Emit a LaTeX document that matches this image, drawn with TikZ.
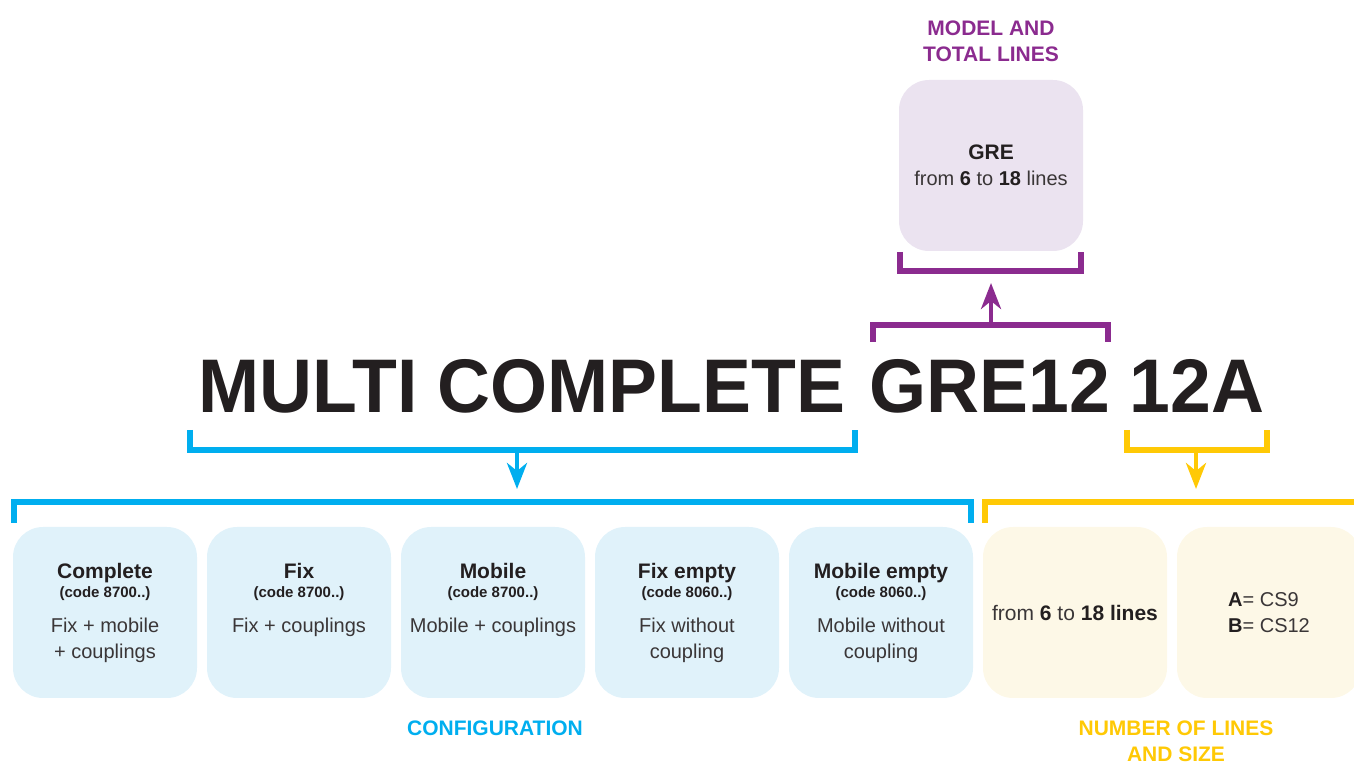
\documentclass[tikz,border=0pt]{standalone}
\usepackage{fontspec}
\setmainfont{Liberation Sans}
\usepackage{graphicx}
\usetikzlibrary{arrows.meta,positioning,calc}
\definecolor{CfgBlue}{HTML}{00AEEF}
\definecolor{CfgBlueLight}{HTML}{E0F2FA}
\definecolor{ModelPurple}{HTML}{8B2B8F}
\definecolor{ModelPurpleLight}{HTML}{EBE3F0}
\definecolor{SizeYellow}{HTML}{FFC905}
\definecolor{SizeYellowLight}{HTML}{FDF8E7}
\definecolor{Ink}{HTML}{231F20}
\definecolor{InkSoft}{HTML}{3A3637}
\newcommand{\cardhead}[2]{{\bfseries\color{Ink}\fontsize{10.5}{13}\selectfont #1}\\[-3.5pt]{\bfseries\color{Ink}\fontsize{7.5}{9}\selectfont (code #2..)}\\[4.5pt]}

\begin{document}
\begin{tikzpicture}[
		x=0.5pt,y=-0.5pt,
		node distance=5pt,
		card/.style={rounded corners=15pt,minimum width=92pt,minimum height=85.5pt,inner sep=0pt,outer sep=0pt,align=center,text=InkSoft,font=\fontsize{10}{13}\selectfont},
		title/.style={inner sep=0pt,anchor=base,text=Ink,font=\fontsize{38}{38}\selectfont\bfseries},
		tag/.style={align=center,font=\fontsize{10.5}{13}\selectfont\bfseries},
		brk/.style={line width=2.6pt},
		arr/.style={-{Stealth[length=13pt,width=10pt,inset=4pt]},line width=2.2pt}
	]
	\useasboundingbox (0,0) rectangle (1354,763);
	% title
	\node[title] (t1) at (522,413) {\scalebox{0.965}[1]{MULTI COMPLETE}};
	\node[title] (t2) at (990,413) {\scalebox{0.965}[1]{GRE12}};
	\node[title] (t3) at (1197,413) {\scalebox{0.965}[1]{12A}};
	% model
	\node[card,fill=ModelPurpleLight] (gre) at (991,165.5) {{\bfseries\color{Ink}\fontsize{10.5}{13}\selectfont GRE}\\from \textbf{\color{Ink}6} to \textbf{\color{Ink}18} lines};
	\node[tag,text=ModelPurple] (model) at (991,41) {MODEL AND\\TOTAL LINES};
	\draw[brk,ModelPurple] (873,342) -- (873,325) -- (1108,325) -- (1108,342);
	\draw[brk,ModelPurple] (900,252) -- (900,271) -- (1081,271) -- (1081,252);
	\coordinate (gretail) at (991,325);
	\coordinate (gretip) at (991,283);
	\draw[arr,ModelPurple] (gretail) -- (gretip);
	% configuration
	\node[card,fill=CfgBlueLight] (c1) at (105,612.5) {\cardhead{Complete}{8700}Fix + mobile\\+ couplings};
	\node[card,fill=CfgBlueLight,right=of c1] (c2) {\cardhead{Fix}{8700}Fix + couplings\\\vphantom{g}};
	\node[card,fill=CfgBlueLight,right=of c2] (c3) {\cardhead{Mobile}{8700}Mobile + couplings\\\vphantom{g}};
	\node[card,fill=CfgBlueLight,right=of c3] (c4) {\cardhead{Fix empty}{8060}Fix without\\coupling};
	\node[card,fill=CfgBlueLight,right=of c4] (c5) {\cardhead{Mobile empty}{8060}Mobile without\\coupling};
	\node[tag,text=CfgBlue] (cfg) at (495,728) {CONFIGURATION};
	\draw[brk,CfgBlue] (190,430) -- (190,450) -- (855,450) -- (855,430);
	\draw[brk,CfgBlue] (14,523) -- (14,502) -- (971,502) -- (971,523);
	\coordinate (cfgtail) at (517,450);
	\coordinate (cfgtip) at (517,489);
	\draw[arr,CfgBlue] (cfgtail) -- (cfgtip);
	% lines and size
	\node[card,fill=SizeYellowLight,right=of c5,font=\fontsize{10.5}{13}\selectfont] (s1) {from \textbf{\color{Ink}6} to \textbf{\color{Ink}18 lines}};
	\node[card,fill=SizeYellowLight,right=of s1,align=left] (s2) {\textbf{\color{Ink}A}= CS9\\\textbf{\color{Ink}B}= CS12};
	\node[tag,text=SizeYellow] (size) at (1176,741) {NUMBER OF LINES\\AND SIZE};
	\draw[brk,SizeYellow] (1127,430) -- (1127,450) -- (1267,450) -- (1267,430);
	\draw[brk,SizeYellow] (985,523) -- (985,502) -- (1360,502);
	\coordinate (sizetail) at (1196,450);
	\coordinate (sizetip) at (1196,489);
	\draw[arr,SizeYellow] (sizetail) -- (sizetip);
\end{tikzpicture}
\end{document}
